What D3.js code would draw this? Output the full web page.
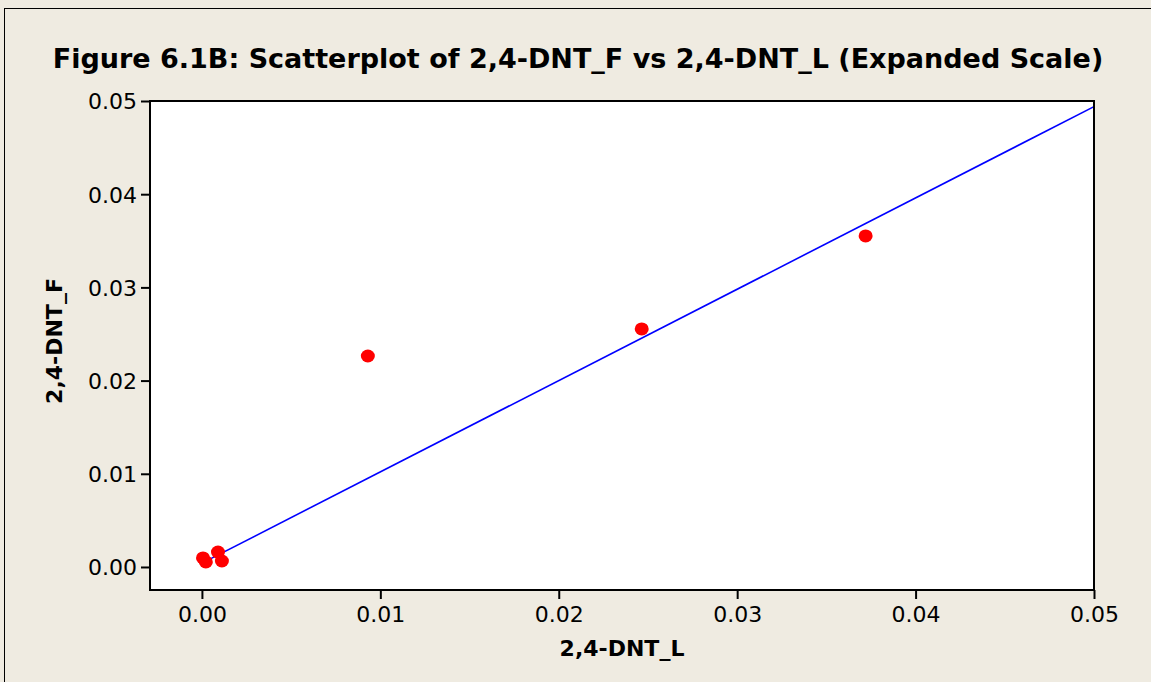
<!DOCTYPE html>
<html>
<head>
<meta charset="utf-8">
<script src="https://cdn.jsdelivr.net/npm/d3@7"></script>
<style>
	body { margin: 0; background: #efebe1; }
	svg { display: block; }
	text { font-family: "DejaVu Sans", Verdana, sans-serif; fill: #000; }
</style>
</head>
<body>
<svg id="chart" width="1151" height="682"></svg>
<script>
// data
const dntL = [0.00006, 0.00022, 0.0009, 0.00112, 0.0093, 0.02465, 0.0372];
const dntF = [0.00097, 0.00054, 0.0016, 0.00064, 0.02264, 0.02554, 0.03552];
const fitX = [0.0002, 0.05];
const fitY = [0.0006, 0.0494];
const xTicks = [0, 0.01, 0.02, 0.03, 0.04, 0.05];
const yTicks = [0, 0.01, 0.02, 0.03, 0.04, 0.05];

const svg = d3.select('#chart');
const frame = {left: 150, right: 1094, top: 101, bottom: 590};

const x = d3.scaleLinear().domain([-0.00291, 0.05]).range([frame.left, frame.right]);
const y = d3.scaleLinear().domain([-0.00247, 0.05]).range([frame.bottom, frame.top]);

// outer border
svg.append('rect')
	.attr('x', 4.5).attr('y', 8.5)
	.attr('width', 1160).attr('height', 690)
	.attr('fill', '#efebe1')
	.attr('stroke', '#000').attr('stroke-width', 1);

// plot area
svg.append('rect')
	.attr('x', frame.left).attr('y', frame.top)
	.attr('width', frame.right - frame.left)
	.attr('height', frame.bottom - frame.top)
	.attr('fill', '#fff');

// fitted line
svg.append('line')
	.attr('x1', x(fitX[0])).attr('y1', y(fitY[0]))
	.attr('x2', x(fitX[1])).attr('y2', y(fitY[1]))
	.attr('stroke', '#0000ff').attr('stroke-width', 1.6);

// points
svg.append('g').selectAll('ellipse')
	.data(dntL.map((v, i) => [v, dntF[i]]))
	.join('ellipse')
	.attr('cx', d => x(d[0]))
	.attr('cy', d => y(d[1]))
	.attr('rx', 7).attr('ry', 6.5)
	.attr('fill', '#ff0000');

// frame
svg.append('rect')
	.attr('x', frame.left).attr('y', frame.top)
	.attr('width', frame.right - frame.left)
	.attr('height', frame.bottom - frame.top)
	.attr('fill', 'none')
	.attr('stroke', '#000').attr('stroke-width', 2);

const xAxis = svg.append('g')
	.attr('transform', `translate(0,${frame.bottom})`)
	.call(d3.axisBottom(x).tickValues(xTicks).tickFormat(d3.format('.2f')).tickSize(9).tickPadding(7));
const yAxis = svg.append('g')
	.attr('transform', `translate(${frame.left},0)`)
	.call(d3.axisLeft(y).tickValues(yTicks).tickFormat(d3.format('.2f')).tickSize(9).tickPadding(4));

[xAxis, yAxis].forEach(g => {
	g.select('.domain').remove();
	g.selectAll('line').attr('stroke', '#000').attr('stroke-width', 2);
	g.selectAll('text')
		.attr('font-family', '"DejaVu Sans", Verdana, sans-serif')
		.attr('font-size', 22).attr('fill', '#000');
});
yAxis.selectAll('text').attr('dy', '0.36em');

// title
svg.append('text')
	.attr('x', 578).attr('y', 68)
	.attr('text-anchor', 'middle')
	.attr('font-size', 27).attr('font-weight', 'bold')
	.text('Figure 6.1B: Scatterplot of 2,4-DNT_F vs 2,4-DNT_L (Expanded Scale)');

// axis titles
svg.append('text')
	.attr('x', 622).attr('y', 656)
	.attr('text-anchor', 'middle')
	.attr('font-size', 22).attr('font-weight', 'bold')
	.text('2,4-DNT_L');

svg.append('text')
	.attr('transform', 'translate(62,341) rotate(-90)')
	.attr('text-anchor', 'middle')
	.attr('font-size', 22).attr('font-weight', 'bold')
	.text('2,4-DNT_F');
</script>
</body>
</html>
